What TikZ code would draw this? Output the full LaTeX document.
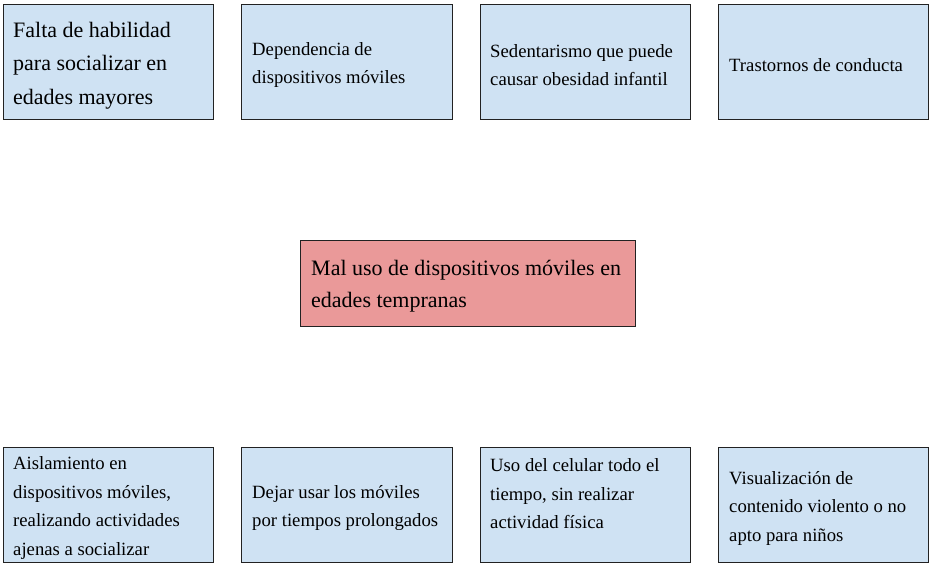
\documentclass[tikz,border=0pt]{standalone}
\usepackage{fontspec}
\setmainfont{Liberation Serif}
\definecolor{boxblue}{HTML}{CFE2F3}
\definecolor{boxred}{HTML}{EA9999}
\definecolor{edge}{HTML}{222222}
\begin{document}
\begin{tikzpicture}[x=1pt,y=-1pt,
  box/.style={draw=edge,line width=1pt,fill=boxblue},
  redbox/.style={draw=edge,line width=1pt,fill=boxred},
  lbl/.style={anchor=west,align=left,inner sep=0pt,font=\fontsize{18.7}{28.5}\selectfont},
  biglbl/.style={anchor=west,align=left,inner sep=0pt,font=\fontsize{22}{33.5}\selectfont},
  midlbl/.style={anchor=west,align=left,inner sep=0pt,font=\fontsize{22}{32}\selectfont}]
\useasboundingbox (0,0) rectangle (931,563);
% top row
\draw[box] (3,4) rectangle (213,119);
\draw[box] (241,4) rectangle (452,119);
\draw[box] (480,4) rectangle (690,119);
\draw[box] (718,4) rectangle (928,119);
\node[biglbl] (t1) at (13,65.5) {Falta de habilidad\\para socializar en\\edades mayores};
\node[lbl] (t2) at (252,65) {Dependencia de\\dispositivos móviles};
\node[lbl] (t3) at (490,65) {Sedentarismo que puede\\causar obesidad infantil};
\node[lbl] (t4) at (729,65) {Trastornos de conducta};
% center
\draw[redbox] (300,240) rectangle (635,326);
\node[midlbl] (c) at (311,286) {Mal uso de dispositivos móviles en\\edades tempranas};
% bottom row
\draw[box] (3,447) rectangle (213,562);
\draw[box] (241,447) rectangle (452,562);
\draw[box] (480,447) rectangle (690,562);
\draw[box] (718,447) rectangle (928,562);
\node[lbl] (b1) at (13,508) {Aislamiento en\\dispositivos móviles,\\realizando actividades\\ajenas a socializar};
\node[lbl] (b2) at (252,508) {Dejar usar los móviles\\por tiempos prolongados};
\node[lbl] (b3) at (490,494) {Uso del celular todo el\\tiempo, sin realizar\\actividad física};
\node[lbl] (b4) at (729,508) {Visualización de\\contenido violento o no\\apto para niños};
\end{tikzpicture}
\end{document}
